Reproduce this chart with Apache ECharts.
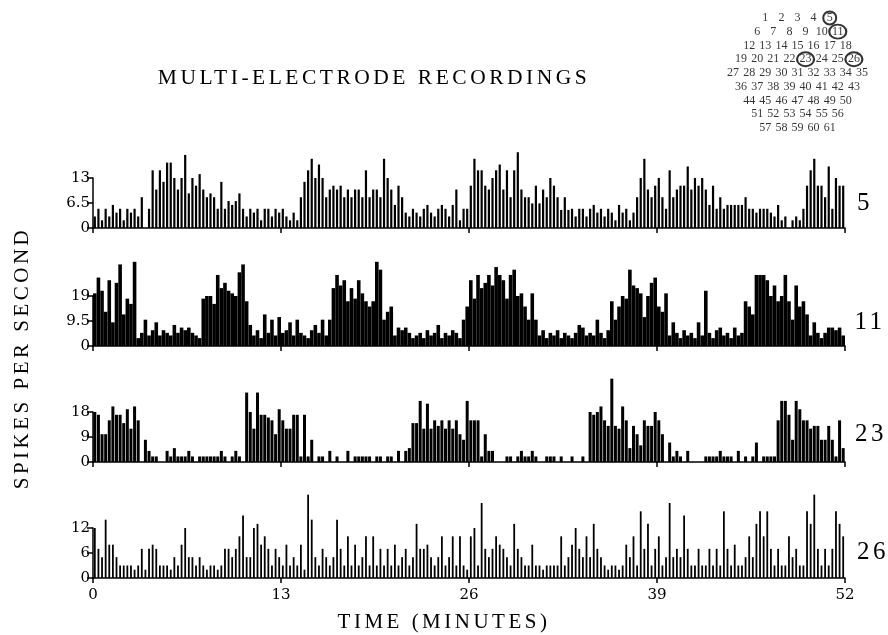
<!DOCTYPE html>
<html>
<head>
<meta charset="utf-8">
<script src="https://cdn.jsdelivr.net/npm/echarts@6/dist/echarts.min.js"></script>
<style>
  html, body { margin: 0; padding: 0; background: #fff; }
  #wrap { position: relative; width: 888px; height: 635px; }
  #chart, #headings { position: absolute; left: 0; top: 0; width: 888px; height: 635px; }
  #headings { pointer-events: none; }
</style>
</head>
<body>
<div id="wrap">
  <div id="chart"></div>
  <div id="headings"></div>
</div>
<script>
// Spike-rate histograms, one bin per quarter minute, for four electrodes.
const binMinutes = 0.25;
const timeTicks = [0, 13, 26, 39, 52];
const electrodeNames = ['5', '11', '23', '26'];
const axisTops = [13, 19, 18, 12];

const spikes5 = [
  3,5,2,5,3,6,4,5,2,5,4,5,3,
  8,0,5,
  15,10,15,12,17,17,13,10,13,19,9,13,11,14,10,8,9,8,5,12,5,7,6,7,9,
  5,3,5,4,5,2,5,5,3,5,4,5,3,2,4,2,
  8,
  12,15,18,13,16.5,13,8,10,11,10,11,8,10,8,10,10,8,15,8,10,10,8,18,13,10,6,11,
  8,
  4,3,5,4,3,5,6,4,3,5,6,5,3,6,
  10,2,5,5,
  11,18,15,15,11,10,13,15,16.5,10,15,8,15,19.7,10,8,8,6.4,11,6.4,10,8,13,11,8,4.7,8,4.7,
  5,3,5,5,3,5,6,4,5,3,5,4,2,6,4,5,2,4,
  8,13,18,10,8,11,13,8,5,15,8,10,11,11,16,10,13,11,13,10,6,11,5,8,
  5,6,6,6,6,6,8,5,5,4,5,5,5,4,3,6,2,3,0,2,3,2,
  5,
  11,15,18,11,11,8,16,5,13,11,11
];

const spikes11 = [
  20,26,21,13,25,9,24,31,12,18,16,32,
  3,5,10,4,6,9,4,6,5,4,8,5,7,6,7,5,4,3,
  18,19,19,16,27,22,24,21,20,19,28,31,17,
  8,4,6,3,12,5,10,4,11,5,6,9,4,10,5,
  4,3,6,8,5,10,4,
  10,22,27,23,25,17,22,18,25,20,17,15,17,32,29,10,13,15,
  4,7,6,7,5,3,4,5,3,6,4,5,8,3,5,4,6,5,3,
  10,15,25,18,27,22,24,27,23,30,27,25,18,27,29,19,20,15,10,20,
  10,4,6,3,5,4,6,3,5,4,3,5,8,7,4,5,
  4,10,5,3,6,
  17,10,15,19,18,29,23,22,20,11,19,24,26,15,13,20,
  4,9,5,3,6,4,5,3,9,4,21,5,3,6,7,4,5,3,7,4,5,
  17,
  15,12,27,27,27,25,19,23,17,19,27,17,10,23,15,17,
  12,4,9,5,3,5,7,7,6,7,4
];

const spikes23 = [
  18,17,10,10,15,20,17,17,14,19,12,20,15,
  0,8,4,2,2,0,0,4,2,5,2,2,2,4,2,0,2,2,2,2,2,2,4,2,0,2,4,2,0,
  25,18,12,25,17,17,16,15,10,19,15,12,12,17,17,2,17,2,8,
  0,2,2,0,4,0,2,0,0,4,0,2,2,2,2,2,0,2,2,0,2,2,0,4,0,4,5,
  14,14,22,12,21,12,15,13,15,12,15,12,15,10,8,22,15,15,15,2,10,
  4,4,0,0,0,2,2,0,2,4,2,2,4,2,0,0,2,2,2,0,2,0,0,2,0,0,2,0,
  18,17,18,20,15,13,30,13,12,20,15,5,13,10,6,15,13,13,18,15,10,0,7,
  2,4,2,0,4,0,0,0,0,2,2,2,2,4,2,2,2,0,4,0,2,0,2,7,0,2,2,2,2,
  15,22,22,17,8,22,19,15,15,12,13,13,8,8,13,8,2,15,5
];

const spikes26 = [
  12,7,5,14,8,8,5,3,3,3,3,2,3,
  7,2,7,8,7,3,3,3,2,
  5,3,8,12,5,5,3,5,
  3,2,3,3,2,3,7,
  7,5,7,10,15,5,5,12,13,8,10,7,
  3,7,5,3,8,3,5,3,8,2,
  20,14,5,3,7,5,3,5,14,7,3,
  10,3,8,3,5,10,3,10,3,7,3,7,3,8,3,5,7,3,5,13,7,7,8,5,3,5,10,3,5,10,3,
  10,3,2,10,12,3,
  18,7,5,7,10,8,7,5,3,13,7,5,3,3,8,3,3,2,3,3,3,
  3,10,3,5,8,12,7,5,10,5,13,7,5,
  3,2,3,3,2,3,8,5,10,3,16,7,13,3,
  7,10,3,5,18,5,7,5,15,7,3,3,7,3,3,7,
  3,7,3,16,7,3,8,3,3,5,10,5,13,16,10,16,7,
  3,7,3,3,10,5,7,3,3,16,13,20,7,3,7,3,7,16,13,10
];

const panels = [spikes5, spikes11, spikes23, spikes26];

// Electrode array layout: number of electrodes in each row, and the ones recorded.
const rowSizes = [5, 6, 7, 8, 9, 8, 7, 6, 5];
const circled = [5, 11, 23, 26];

// ---- layout ----
const tickFont = '"DejaVu Serif", "Liberation Serif", serif';
const headFont = '"Liberation Serif", "DejaVu Serif", serif';
const baselines = [228, 346, 462, 578];
const barWidths = [2.2, 3.6, 3.0, 1.8];
const axisSpan = 50;
const plotLeft = 93, plotRight = 43;
const ink = '#000';

const grids = [], xAxes = [], yAxes = [], series = [];

panels.forEach((values, k) => {
  const top = axisTops[k];
  grids.push({
    left: plotLeft, right: plotRight,
    top: baselines[k] - axisSpan, height: axisSpan,
    containLabel: false, outerBoundsMode: 'none'
  });
  xAxes.push({
    type: 'value', gridIndex: k, min: 0, max: 52, interval: 13,
    axisLine: { show: true, onZero: false, lineStyle: { color: ink, width: 1.5 } },
    axisTick: { show: true, length: 5, lineStyle: { color: ink, width: 1.5 } },
    axisLabel: {
      show: k === panels.length - 1, margin: 10, color: ink,
      fontFamily: tickFont, fontSize: 15,
      formatter: v => timeTicks.includes(v) ? String(v) : ''
    },
    splitLine: { show: false }
  });
  yAxes.push({
    type: 'value', gridIndex: k, min: 0, max: top, interval: top / 2,
    axisLine: { show: true, lineStyle: { color: ink, width: 1.5 } },
    axisTick: { show: true, length: 6, lineStyle: { color: ink, width: 1.5 } },
    axisLabel: {
      margin: 3, color: ink, fontFamily: tickFont, fontSize: 15,
      formatter: v => String(v)
    },
    splitLine: { show: false }
  });
  series.push({
    type: 'bar', xAxisIndex: k, yAxisIndex: k,
    data: values.map((v, i) => [(i + 0.5) * binMinutes, v]),
    barWidth: barWidths[k],
    clip: false,
    silent: true,
    itemStyle: { color: ink }
  });
});

// Electrode map in the upper right corner.
const mapIndex = panels.length;
grids.push({ left: 725, width: 145, top: 11, height: 124, containLabel: false, outerBoundsMode: 'none' });
xAxes.push({ type: 'value', gridIndex: mapIndex, min: -4.5, max: 4.5, show: false });
yAxes.push({ type: 'value', gridIndex: mapIndex, min: -0.5, max: 8.5, inverse: true, show: false });

const electrodePoints = [];
let number = 1;
rowSizes.forEach((size, row) => {
  for (let c = 0; c < size; c++) {
    const marked = circled.includes(number);
    electrodePoints.push({
      name: String(number),
      value: [c - (size - 1) / 2, row],
      symbolSize: marked ? (number >= 10 ? [17, 14] : 13) : 1,
      itemStyle: marked
        ? { color: 'rgba(0,0,0,0)', borderColor: ink, borderWidth: 2 }
        : { color: 'rgba(0,0,0,0)', borderWidth: 0 }
    });
    number++;
  }
});
series.push({
  type: 'scatter', xAxisIndex: mapIndex, yAxisIndex: mapIndex,
  symbol: 'circle', silent: true,
  data: electrodePoints,
  label: {
    show: true, position: 'inside', formatter: p => p.name,
    color: ink, fontFamily: headFont, fontSize: 12
  }
});

const chart = echarts.init(document.getElementById('chart'), null, { renderer: 'canvas' });
chart.setOption({
  animation: false,
  backgroundColor: '#fff',
  grid: grids,
  xAxis: xAxes,
  yAxis: yAxes,
  series
});

// Headings are drawn on their own layer so they can be letter-spaced.
const textEl = (text, x, y, size, rotation) => ({
  type: 'text', x, y, rotation: rotation || 0, silent: true,
  style: {
    text, fill: ink, font: size + 'px ' + headFont,
    align: 'center', verticalAlign: 'middle',
    textAlign: 'center', textVerticalAlign: 'middle'
  }
});
const panelLabelPos = [[865, 203], [870, 322], [871, 434], [873, 552]];
const headingOption = {
  animation: false,
  graphic: [
    textEl('MULTI-ELECTRODE RECORDINGS', 374, 78, 21.5),
    textEl('SPIKES PER SECOND', 22, 358, 21, Math.PI / 2),
    textEl('TIME (MINUTES)', 444, 622, 21),
    ...electrodeNames.map((name, k) => textEl(name, panelLabelPos[k][0], panelLabelPos[k][1], 25))
  ]
};
const headings = echarts.init(document.getElementById('headings'), null, { renderer: 'canvas' });
headings.setOption(headingOption);
const headCanvas = document.querySelector('#headings canvas');
if (headCanvas) {
  headCanvas.getContext('2d').letterSpacing = '3.5px';
  headings.clear();
  headings.setOption(headingOption);
}
</script>
</body>
</html>
